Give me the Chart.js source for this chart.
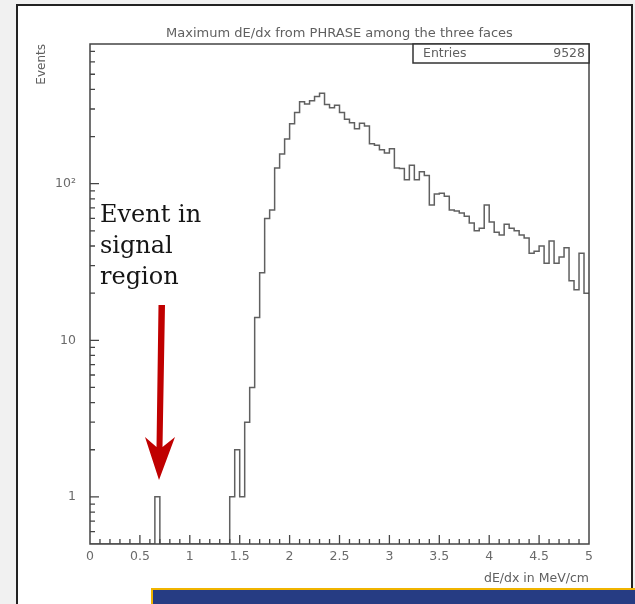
<!DOCTYPE html>
<html>
<head>
<meta charset="utf-8">
<script src="https://cdn.jsdelivr.net/npm/chart.js@4.4.1/dist/chart.umd.min.js"></script>
<style>
  html, body { margin: 0; padding: 0; }
  body { width: 635px; height: 604px; background: #f1f1f1; position: relative; overflow: hidden; }
  #panel { position: absolute; left: 16px; top: 4px; width: 617px; height: 660px; box-sizing: border-box;
           background: #fff; border: 2px solid #222; }
  #plot { position: absolute; left: 0; top: 0; }
  #note { position: absolute; left: 100px; top: 199px; font-family: "DejaVu Serif", serif; font-size: 24px;
          line-height: 31px; color: #151515; }
  #arrow { position: absolute; left: 0; top: 0; }
  #banner { position: absolute; left: 151px; top: 588px; width: 500px; height: 40px; box-sizing: border-box;
            background: #263c83; border: 2px solid #f0b400; }
</style>
</head>
<body>
<div id="panel"></div>
<canvas id="plot" width="635" height="604"></canvas>
<div id="note">Event in<br>signal<br>region</div>
<svg id="arrow" width="635" height="604">
  <polygon points="158.5,305 165,305 162.5,447 175,437 159,480 145,437 156.5,447" fill="#c00000"/>
</svg>
<div id="banner"></div>
<script>
// histogram: maximum dE/dx, 100 bins of 0.05 MeV/cm from 0 to 5
const TITLE = 'Maximum dE/dx from PHRASE among the three faces';
const X_TITLE = 'dE/dx in MeV/cm';
const Y_TITLE = 'Events';
const ENTRIES = 9528;

const BIN_EDGES = [
  0.00, 0.05, 0.10, 0.15, 0.20, 0.25, 0.30, 0.35, 0.40, 0.45,
  0.50, 0.55, 0.60, 0.65, 0.70, 0.75, 0.80, 0.85, 0.90, 0.95,
  1.00, 1.05, 1.10, 1.15, 1.20, 1.25, 1.30, 1.35, 1.40, 1.45,
  1.50, 1.55, 1.60, 1.65, 1.70, 1.75, 1.80, 1.85, 1.90, 1.95,
  2.00, 2.05, 2.10, 2.15, 2.20, 2.25, 2.30, 2.35, 2.40, 2.45,
  2.50, 2.55, 2.60, 2.65, 2.70, 2.75, 2.80, 2.85, 2.90, 2.95,
  3.00, 3.05, 3.10, 3.15, 3.20, 3.25, 3.30, 3.35, 3.40, 3.45,
  3.50, 3.55, 3.60, 3.65, 3.70, 3.75, 3.80, 3.85, 3.90, 3.95,
  4.00, 4.05, 4.10, 4.15, 4.20, 4.25, 4.30, 4.35, 4.40, 4.45,
  4.50, 4.55, 4.60, 4.65, 4.70, 4.75, 4.80, 4.85, 4.90, 4.95
];
const COUNTS = [
  0, 0, 0, 0, 0, 0, 0, 0, 0, 0,
  0, 0, 0, 1, 0, 0, 0, 0, 0, 0,
  0, 0, 0, 0, 0, 0, 0, 0, 1, 2,
  1, 3, 5, 14, 27, 60, 68, 126, 155, 193,
  241, 285, 334, 323, 338, 360, 378, 320, 306, 317,
  285, 258, 245, 224, 243, 234, 180, 176, 165, 157,
  167, 126, 125, 106, 131, 106, 119, 113, 73, 86,
  87, 83, 68, 67, 65, 62, 56, 50, 52, 73,
  57, 49, 47, 55, 52, 50, 47, 45, 36, 37,
  40, 31, 43, 31, 34, 39, 24, 21, 36, 20
];
const X_MIN = 0, X_MAX = 5;
const Y_MIN = 0.5, Y_MAX = 780;
const X_TICK_VALUES = [0, 0.5, 1, 1.5, 2, 2.5, 3, 3.5, 4, 4.5, 5];
const X_TICK_LABELS = ['0', '0.5', '1', '1.5', '2', '2.5', '3', '3.5', '4', '4.5', '5'];
const Y_TICK_VALUES = [1, 10, 100];
const Y_TICK_LABELS = ['1', '10', '10²'];

const FONT = { family: '"DejaVu Sans", sans-serif', size: 12.5, weight: 'normal' };
const TEXT_GREY = '#606060';

// empty bins sit on the bottom of the log frame, like ROOT draws them
const points = BIN_EDGES.map((x, i) => ({ x: x, y: Math.max(COUNTS[i], Y_MIN) }));
points.push({ x: X_MAX, y: Math.max(COUNTS[COUNTS.length - 1], Y_MIN) });

// frame with inward ticks
const frameTicks = {
  id: 'frameTicks',
  afterDatasetsDraw(chart) {
    const { ctx, chartArea: a, scales: { x, y } } = chart;
    ctx.save();
    ctx.strokeStyle = '#444';
    ctx.lineWidth = 1.3;
    ctx.beginPath();
    for (let k = 1; k < 50; k++) {
      const px = x.getPixelForValue(k / 10);
      const len = k % 5 === 0 ? 9 : 5;
      ctx.moveTo(px, a.bottom);
      ctx.lineTo(px, a.bottom - len);
    }
    [0.1, 1, 10, 100].forEach(d => {
      for (let m = 1; m <= 9; m++) {
        const v = m * d;
        if (v <= y.min || v >= y.max) continue;
        const py = y.getPixelForValue(v);
        const len = m === 1 ? 9 : 5;
        ctx.moveTo(a.left, py);
        ctx.lineTo(a.left + len, py);
      }
    });
    ctx.stroke();
    ctx.lineWidth = 1.5;
    ctx.strokeRect(a.left, a.top, a.right - a.left, a.bottom - a.top);
    ctx.restore();
  }
};

// title centred over the frame, plus the stats box
const titleAndStats = {
  id: 'titleAndStats',
  afterDraw(chart) {
    const { ctx, chartArea: a } = chart;
    ctx.save();
    ctx.fillStyle = TEXT_GREY;
    ctx.font = '13px "DejaVu Sans"';
    ctx.textAlign = 'center';
    ctx.textBaseline = 'middle';
    ctx.fillText(TITLE, (a.left + a.right) / 2, a.top - 10);

    const w = 176, h = 19;
    const left = a.right - w;
    ctx.fillStyle = '#fff';
    ctx.fillRect(left, a.top, w, h);
    ctx.strokeStyle = '#333';
    ctx.lineWidth = 1.5;
    ctx.strokeRect(left, a.top, w, h);
    ctx.fillStyle = TEXT_GREY;
    ctx.font = '12.5px "DejaVu Sans"';
    ctx.textAlign = 'left';
    ctx.fillText('Entries', left + 10, a.top + h / 2 + 0.5);
    ctx.textAlign = 'right';
    ctx.fillText(String(ENTRIES), a.right - 4, a.top + h / 2 + 0.5);
    ctx.restore();
  }
};

const ctx = document.getElementById('plot').getContext('2d');
new Chart(ctx, {
  type: 'line',
  data: {
    datasets: [{
      data: points,
      stepped: 'before',
      borderColor: '#606060',
      borderWidth: 1.5,
      pointRadius: 0,
      fill: false
    }]
  },
  options: {
    responsive: false,
    animation: false,
    layout: { padding: { left: 30, right: 46, top: 44, bottom: 16 } },
    plugins: {
      legend: { display: false },
      tooltip: { enabled: false },
      title: { display: false }
    },
    scales: {
      x: {
        type: 'linear', min: X_MIN, max: X_MAX,
        grid: { display: false, drawTicks: false },
        border: { display: false },
        afterBuildTicks: s => { s.ticks = X_TICK_VALUES.map(v => ({ value: v })); },
        ticks: {
          color: '#6a6a6a', font: FONT, padding: 5, maxRotation: 0, autoSkip: false,
          callback: v => {
            const i = X_TICK_VALUES.indexOf(v);
            return i >= 0 ? X_TICK_LABELS[i] : '';
          }
        },
        title: { display: true, text: X_TITLE, align: 'end', color: TEXT_GREY, font: FONT, padding: { top: 0, bottom: 2 } },
        afterFit: s => { s.height = 44; }
      },
      y: {
        type: 'logarithmic', min: Y_MIN, max: Y_MAX,
        grid: { display: false, drawTicks: false },
        border: { display: false },
        afterBuildTicks: s => { s.ticks = Y_TICK_VALUES.map(v => ({ value: v })); },
        ticks: {
          color: '#6a6a6a', font: FONT, padding: 14, autoSkip: false,
          callback: v => {
            const i = Y_TICK_VALUES.indexOf(v);
            return i >= 0 ? Y_TICK_LABELS[i] : '';
          }
        },
        title: { display: true, text: Y_TITLE, align: 'end', color: TEXT_GREY, font: { family: FONT.family, size: 12 }, padding: { top: 5, bottom: 0 } },
        afterFit: s => { s.width = 60; }
      }
    }
  },
  plugins: [frameTicks, titleAndStats]
});
</script>
</body>
</html>
